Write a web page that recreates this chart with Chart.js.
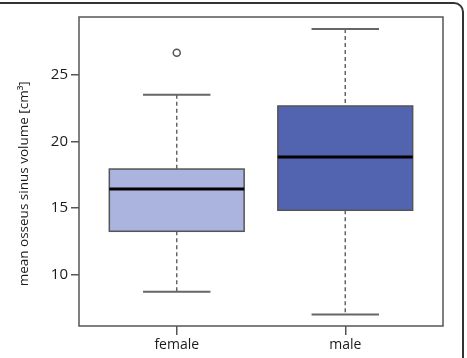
<!DOCTYPE html>
<html>
<head>
<meta charset="utf-8">
<script src="https://cdn.jsdelivr.net/npm/chart.js@4.4.1/dist/chart.umd.min.js"></script>
<style>
  body { margin: 0; background: #fff; }
  #wrap { position: relative; width: 467px; height: 358px; }
  #frame {
    position: absolute; left: 0; top: 2px; width: 462px; height: 400px;
    border-top: 2px solid #333; border-right: 2px solid #333;
    border-top-right-radius: 10px; pointer-events: none;
  }
</style>
</head>
<body>
<div id="wrap">
  <canvas id="box-chart" width="467" height="358"></canvas>
  <div id="frame"></div>
</div>
<script>
var categories = ["female", "male"];
var lowWhisker = [8.7, 7.0];
var q1 = [13.25, 14.83];
var median = [16.43, 18.83];
var q3 = [17.93, 22.67];
var highWhisker = [23.52, 28.46];
var outliers = [[26.68], []];
var boxColors = ["#aab4de", "#5263b0"];
var yTicks = [10, 15, 20, 25];

var outlierPoints = [];
outliers.forEach(function (list, i) {
    list.forEach(function (v) { outlierPoints.push({ x: i + 1, y: v }); });
});

// draws boxes, whiskers and medians through the chart's scales
var boxPlugin = {
    id: 'boxes',
    beforeDatasetsDraw: function (chart) {
        var c = chart.ctx, xs = chart.scales.x, ys = chart.scales.y;
        var area = chart.chartArea;
        for (var i = 0; i < categories.length; i++) {
            var cx = xs.getPixelForValue(i + 1);
            var half = xs.getPixelForValue(i + 1.4) - cx;
            var capHalf = xs.getPixelForValue(i + 1.2) - cx;
            var yq1 = ys.getPixelForValue(q1[i]);
            var yq3 = ys.getPixelForValue(q3[i]);
            c.save();
            // whiskers
            c.strokeStyle = '#666';
            c.lineWidth = 1.5;
            c.setLineDash([4, 3]);
            c.beginPath();
            c.moveTo(cx, ys.getPixelForValue(highWhisker[i]));
            c.lineTo(cx, yq3);
            c.moveTo(cx, yq1);
            c.lineTo(cx, ys.getPixelForValue(lowWhisker[i]));
            c.stroke();
            c.setLineDash([]);
            c.lineWidth = 2;
            c.beginPath();
            c.moveTo(cx - capHalf, ys.getPixelForValue(highWhisker[i]));
            c.lineTo(cx + capHalf, ys.getPixelForValue(highWhisker[i]));
            c.moveTo(cx - capHalf, ys.getPixelForValue(lowWhisker[i]));
            c.lineTo(cx + capHalf, ys.getPixelForValue(lowWhisker[i]));
            c.stroke();
            // box
            c.fillStyle = boxColors[i];
            c.fillRect(cx - half, yq3, half * 2, yq1 - yq3);
            c.strokeStyle = '#555';
            c.lineWidth = 1.5;
            c.strokeRect(cx - half, yq3, half * 2, yq1 - yq3);
            // median
            c.strokeStyle = '#000';
            c.lineWidth = 3;
            c.beginPath();
            c.moveTo(cx - half, ys.getPixelForValue(median[i]));
            c.lineTo(cx + half, ys.getPixelForValue(median[i]));
            c.stroke();
            c.restore();
        }
        // plot frame
        c.save();
        c.strokeStyle = '#555';
        c.lineWidth = 1.5;
        c.strokeRect(area.left, area.top, area.right - area.left, area.bottom - area.top);
        c.restore();
    }
};

var ctx = document.getElementById("box-chart");

var BoxChart = new Chart(ctx, {
    type: 'scatter',
    data: {
        datasets: [{
            label: 'outliers',
            data: outlierPoints,
            pointRadius: 3.5,
            pointBorderWidth: 1.5,
            pointBorderColor: '#555',
            pointBackgroundColor: '#fff'
        }]
    },
    options: {
        responsive: false,
        animation: false,
        layout: { padding: { left: 0, top: 17, right: 24, bottom: 0 } },
        plugins: { legend: { display: false }, tooltip: { enabled: false } },
        scales: {
            x: {
                type: 'linear',
                min: 0.42,
                max: 2.58,
                afterBuildTicks: function (scale) {
                    scale.ticks = categories.map(function (c, i) { return { value: i + 1 }; });
                },
                afterFit: function (scale) { scale.height = 32; },
                ticks: {
                    callback: function (v) { return categories[v - 1]; },
                    color: '#1a1a1a',
                    font: { family: 'Open Sans', size: 14 },
                    padding: 2,
                    maxRotation: 0
                },
                grid: { drawOnChartArea: false, tickLength: 9, color: '#555', lineWidth: 1.5 },
                border: { display: false }
            },
            y: {
                min: 6.13,
                max: 29.36,
                afterBuildTicks: function (scale) {
                    scale.ticks = yTicks.map(function (v) { return { value: v }; });
                },
                afterFit: function (scale) { scale.width = 79; },
                ticks: {
                    color: '#1a1a1a',
                    font: { family: 'Open Sans', size: 15 },
                    padding: 3
                },
                grid: { drawOnChartArea: false, tickLength: 8, color: '#555', lineWidth: 1.5 },
                border: { display: false },
                title: {
                    display: true,
                    text: 'mean osseus sinus volume [cm³]       ',
                    color: '#1a1a1a',
                    font: { family: 'Open Sans', size: 13.5 },
                    padding: { top: 16, bottom: 0 }
                }
            }
        }
    },
    plugins: [boxPlugin]
});
</script>
</body>
</html>
